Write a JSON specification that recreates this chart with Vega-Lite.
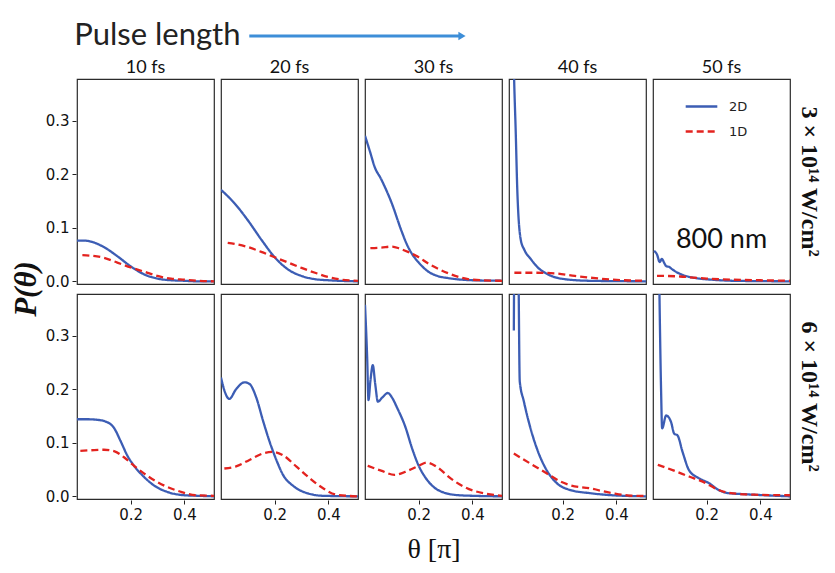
{
  "$schema": "https://vega.github.io/schema/vega-lite/v6.json",
  "background": "white",
  "padding": {"left": 11, "top": 5, "right": 5, "bottom": 3},
  "spacing": 4,
  "vconcat": [
    {
      "width": 709,
      "height": 50,
      "view": {"stroke": null},
      "layer": [
        {
          "data": {"values": [{"x": -0.004, "y": 0.38, "txt": "Pulse length"}]},
          "mark": {"type": "text", "align": "left", "baseline": "middle", "font": "Lato", "fontSize": 31, "color": "#222"},
          "encoding": {
            "x": {"field": "x", "type": "quantitative", "scale": {"domain": [0, 1]}, "axis": null},
            "y": {"field": "y", "type": "quantitative", "scale": {"domain": [0, 1]}, "axis": null},
            "text": {"field": "txt"}
          }
        },
        {
          "data": {"values": [{"x": 0.243, "x2": 0.54, "y": 0.38}]},
          "mark": {"type": "rule", "color": "#3d8ed8", "strokeWidth": 3},
          "encoding": {
            "x": {"field": "x", "type": "quantitative", "scale": {"domain": [0, 1]}, "axis": null},
            "x2": {"field": "x2"},
            "y": {"field": "y", "type": "quantitative", "scale": {"domain": [0, 1]}, "axis": null}
          }
        },
        {
          "data": {"values": [{"x": 0.543, "y": 0.38}]},
          "mark": {"type": "point", "shape": "triangle-right", "filled": true, "size": 70, "color": "#3d8ed8", "opacity": 1},
          "encoding": {
            "x": {"field": "x", "type": "quantitative", "scale": {"domain": [0, 1]}, "axis": null},
            "y": {"field": "y", "type": "quantitative", "scale": {"domain": [0, 1]}, "axis": null}
          }
        }
      ]
    },
    {
      "data": {"values": [
        {"c":10,"r":3,"s":"2D","t":0,"p":0.076},{"c":10,"r":3,"s":"2D","t":0.03,"p":0.076},{"c":10,"r":3,"s":"2D","t":0.06,"p":0.073},{"c":10,"r":3,"s":"2D","t":0.1,"p":0.064},{"c":10,"r":3,"s":"2D","t":0.15,"p":0.047},{"c":10,"r":3,"s":"2D","t":0.2,"p":0.028},{"c":10,"r":3,"s":"2D","t":0.25,"p":0.013},{"c":10,"r":3,"s":"2D","t":0.3,"p":0.005},{"c":10,"r":3,"s":"2D","t":0.35,"p":0.002},{"c":10,"r":3,"s":"2D","t":0.4,"p":0.001},{"c":10,"r":3,"s":"2D","t":0.45,"p":0},{"c":10,"r":3,"s":"2D","t":0.51,"p":0},
        {"c":10,"r":3,"s":"1D","t":0.02,"p":0.049},{"c":10,"r":3,"s":"1D","t":0.05,"p":0.048},{"c":10,"r":3,"s":"1D","t":0.1,"p":0.044},{"c":10,"r":3,"s":"1D","t":0.15,"p":0.035},{"c":10,"r":3,"s":"1D","t":0.2,"p":0.026},{"c":10,"r":3,"s":"1D","t":0.25,"p":0.018},{"c":10,"r":3,"s":"1D","t":0.3,"p":0.01},{"c":10,"r":3,"s":"1D","t":0.35,"p":0.005},{"c":10,"r":3,"s":"1D","t":0.4,"p":0.003},{"c":10,"r":3,"s":"1D","t":0.45,"p":0.001},{"c":10,"r":3,"s":"1D","t":0.51,"p":0},

        {"c":20,"r":3,"s":"2D","t":0,"p":0.171},{"c":20,"r":3,"s":"2D","t":0.05,"p":0.146},{"c":20,"r":3,"s":"2D","t":0.1,"p":0.114},{"c":20,"r":3,"s":"2D","t":0.15,"p":0.078},{"c":20,"r":3,"s":"2D","t":0.2,"p":0.045},{"c":20,"r":3,"s":"2D","t":0.25,"p":0.022},{"c":20,"r":3,"s":"2D","t":0.3,"p":0.01},{"c":20,"r":3,"s":"2D","t":0.35,"p":0.004},{"c":20,"r":3,"s":"2D","t":0.4,"p":0.002},{"c":20,"r":3,"s":"2D","t":0.51,"p":0},
        {"c":20,"r":3,"s":"1D","t":0.025,"p":0.072},{"c":20,"r":3,"s":"1D","t":0.05,"p":0.07},{"c":20,"r":3,"s":"1D","t":0.1,"p":0.064},{"c":20,"r":3,"s":"1D","t":0.15,"p":0.055},{"c":20,"r":3,"s":"1D","t":0.2,"p":0.045},{"c":20,"r":3,"s":"1D","t":0.25,"p":0.035},{"c":20,"r":3,"s":"1D","t":0.3,"p":0.025},{"c":20,"r":3,"s":"1D","t":0.35,"p":0.016},{"c":20,"r":3,"s":"1D","t":0.4,"p":0.008},{"c":20,"r":3,"s":"1D","t":0.45,"p":0.003},{"c":20,"r":3,"s":"1D","t":0.51,"p":0.001},

        {"c":30,"r":3,"s":"2D","t":0,"p":0.272},{"c":30,"r":3,"s":"2D","t":0.02,"p":0.24},{"c":30,"r":3,"s":"2D","t":0.035,"p":0.215},{"c":30,"r":3,"s":"2D","t":0.06,"p":0.191},{"c":30,"r":3,"s":"2D","t":0.098,"p":0.148},{"c":30,"r":3,"s":"2D","t":0.136,"p":0.094},{"c":30,"r":3,"s":"2D","t":0.155,"p":0.07},{"c":30,"r":3,"s":"2D","t":0.174,"p":0.052},{"c":30,"r":3,"s":"2D","t":0.2,"p":0.035},{"c":30,"r":3,"s":"2D","t":0.236,"p":0.018},{"c":30,"r":3,"s":"2D","t":0.27,"p":0.01},{"c":30,"r":3,"s":"2D","t":0.31,"p":0.006},{"c":30,"r":3,"s":"2D","t":0.4,"p":0.002},{"c":30,"r":3,"s":"2D","t":0.51,"p":0.001},
        {"c":30,"r":3,"s":"1D","t":0.02,"p":0.062},{"c":30,"r":3,"s":"1D","t":0.06,"p":0.063},{"c":30,"r":3,"s":"1D","t":0.1,"p":0.065},{"c":30,"r":3,"s":"1D","t":0.13,"p":0.061},{"c":30,"r":3,"s":"1D","t":0.16,"p":0.055},{"c":30,"r":3,"s":"1D","t":0.2,"p":0.045},{"c":30,"r":3,"s":"1D","t":0.236,"p":0.033},{"c":30,"r":3,"s":"1D","t":0.27,"p":0.024},{"c":30,"r":3,"s":"1D","t":0.31,"p":0.015},{"c":30,"r":3,"s":"1D","t":0.35,"p":0.008},{"c":30,"r":3,"s":"1D","t":0.4,"p":0.003},{"c":30,"r":3,"s":"1D","t":0.51,"p":0.001},

        {"c":40,"r":3,"s":"2D","t":0.016,"p":0.45},{"c":40,"r":3,"s":"2D","t":0.019,"p":0.38},{"c":40,"r":3,"s":"2D","t":0.025,"p":0.28},{"c":40,"r":3,"s":"2D","t":0.031,"p":0.169},{"c":40,"r":3,"s":"2D","t":0.044,"p":0.077},{"c":40,"r":3,"s":"2D","t":0.057,"p":0.059},{"c":40,"r":3,"s":"2D","t":0.082,"p":0.041},{"c":40,"r":3,"s":"2D","t":0.107,"p":0.026},{"c":40,"r":3,"s":"2D","t":0.145,"p":0.013},{"c":40,"r":3,"s":"2D","t":0.208,"p":0.004},{"c":40,"r":3,"s":"2D","t":0.3,"p":0.001},{"c":40,"r":3,"s":"2D","t":0.51,"p":0},
        {"c":40,"r":3,"s":"1D","t":0.02,"p":0.016},{"c":40,"r":3,"s":"1D","t":0.1,"p":0.016},{"c":40,"r":3,"s":"1D","t":0.17,"p":0.015},{"c":40,"r":3,"s":"1D","t":0.245,"p":0.01},{"c":40,"r":3,"s":"1D","t":0.3,"p":0.007},{"c":40,"r":3,"s":"1D","t":0.36,"p":0.004},{"c":40,"r":3,"s":"1D","t":0.43,"p":0.002},{"c":40,"r":3,"s":"1D","t":0.51,"p":0.001},

        {"c":50,"r":3,"s":"2D","t":0.004,"p":0.057},{"c":50,"r":3,"s":"2D","t":0.015,"p":0.05},{"c":50,"r":3,"s":"2D","t":0.025,"p":0.036},{"c":50,"r":3,"s":"2D","t":0.033,"p":0.042},{"c":50,"r":3,"s":"2D","t":0.042,"p":0.034},{"c":50,"r":3,"s":"2D","t":0.05,"p":0.028},{"c":50,"r":3,"s":"2D","t":0.06,"p":0.027},{"c":50,"r":3,"s":"2D","t":0.07,"p":0.023},{"c":50,"r":3,"s":"2D","t":0.085,"p":0.018},{"c":50,"r":3,"s":"2D","t":0.1,"p":0.014},{"c":50,"r":3,"s":"2D","t":0.13,"p":0.009},{"c":50,"r":3,"s":"2D","t":0.16,"p":0.006},{"c":50,"r":3,"s":"2D","t":0.22,"p":0.003},{"c":50,"r":3,"s":"2D","t":0.3,"p":0.001},{"c":50,"r":3,"s":"2D","t":0.51,"p":0},
        {"c":50,"r":3,"s":"1D","t":0.015,"p":0.01},{"c":50,"r":3,"s":"1D","t":0.05,"p":0.01},{"c":50,"r":3,"s":"1D","t":0.1,"p":0.009},{"c":50,"r":3,"s":"1D","t":0.15,"p":0.007},{"c":50,"r":3,"s":"1D","t":0.2,"p":0.005},{"c":50,"r":3,"s":"1D","t":0.3,"p":0.003},{"c":50,"r":3,"s":"1D","t":0.4,"p":0.002},{"c":50,"r":3,"s":"1D","t":0.51,"p":0.001},

        {"c":10,"r":6,"s":"2D","t":0,"p":0.144},{"c":10,"r":6,"s":"2D","t":0.04,"p":0.144},{"c":10,"r":6,"s":"2D","t":0.075,"p":0.143},{"c":10,"r":6,"s":"2D","t":0.11,"p":0.139},{"c":10,"r":6,"s":"2D","t":0.1375,"p":0.128},{"c":10,"r":6,"s":"2D","t":0.1625,"p":0.103},{"c":10,"r":6,"s":"2D","t":0.1875,"p":0.076},{"c":10,"r":6,"s":"2D","t":0.2125,"p":0.057},{"c":10,"r":6,"s":"2D","t":0.25,"p":0.036},{"c":10,"r":6,"s":"2D","t":0.2875,"p":0.02},{"c":10,"r":6,"s":"2D","t":0.3375,"p":0.008},{"c":10,"r":6,"s":"2D","t":0.4,"p":0.002},{"c":10,"r":6,"s":"2D","t":0.45,"p":0.001},{"c":10,"r":6,"s":"2D","t":0.51,"p":0},
        {"c":10,"r":6,"s":"1D","t":0.0125,"p":0.085},{"c":10,"r":6,"s":"1D","t":0.05,"p":0.086},{"c":10,"r":6,"s":"1D","t":0.1,"p":0.087},{"c":10,"r":6,"s":"1D","t":0.14,"p":0.084},{"c":10,"r":6,"s":"1D","t":0.175,"p":0.073},{"c":10,"r":6,"s":"1D","t":0.2125,"p":0.057},{"c":10,"r":6,"s":"1D","t":0.26,"p":0.039},{"c":10,"r":6,"s":"1D","t":0.325,"p":0.02},{"c":10,"r":6,"s":"1D","t":0.39,"p":0.008},{"c":10,"r":6,"s":"1D","t":0.44,"p":0.002},{"c":10,"r":6,"s":"1D","t":0.51,"p":0.001},

        {"c":20,"r":6,"s":"2D","t":0,"p":0.222},{"c":20,"r":6,"s":"2D","t":0.0125,"p":0.198},{"c":20,"r":6,"s":"2D","t":0.031,"p":0.182},{"c":20,"r":6,"s":"2D","t":0.056,"p":0.2},{"c":20,"r":6,"s":"2D","t":0.0875,"p":0.213},{"c":20,"r":6,"s":"2D","t":0.106,"p":0.21},{"c":20,"r":6,"s":"2D","t":0.131,"p":0.185},{"c":20,"r":6,"s":"2D","t":0.156,"p":0.142},{"c":20,"r":6,"s":"2D","t":0.181,"p":0.102},{"c":20,"r":6,"s":"2D","t":0.206,"p":0.068},{"c":20,"r":6,"s":"2D","t":0.231,"p":0.04},{"c":20,"r":6,"s":"2D","t":0.27,"p":0.019},{"c":20,"r":6,"s":"2D","t":0.32,"p":0.006},{"c":20,"r":6,"s":"2D","t":0.38,"p":0.001},{"c":20,"r":6,"s":"2D","t":0.51,"p":0},
        {"c":20,"r":6,"s":"1D","t":0.0125,"p":0.052},{"c":20,"r":6,"s":"1D","t":0.056,"p":0.056},{"c":20,"r":6,"s":"1D","t":0.106,"p":0.068},{"c":20,"r":6,"s":"1D","t":0.156,"p":0.08},{"c":20,"r":6,"s":"1D","t":0.194,"p":0.083},{"c":20,"r":6,"s":"1D","t":0.23,"p":0.077},{"c":20,"r":6,"s":"1D","t":0.28,"p":0.056},{"c":20,"r":6,"s":"1D","t":0.33,"p":0.034},{"c":20,"r":6,"s":"1D","t":0.38,"p":0.015},{"c":20,"r":6,"s":"1D","t":0.43,"p":0.003},{"c":20,"r":6,"s":"1D","t":0.51,"p":0},

        {"c":30,"r":6,"s":"2D","t":0,"p":0.358},{"c":30,"r":6,"s":"2D","t":0.008,"p":0.26},{"c":30,"r":6,"s":"2D","t":0.013,"p":0.18},{"c":30,"r":6,"s":"2D","t":0.02,"p":0.215},{"c":30,"r":6,"s":"2D","t":0.029,"p":0.245},{"c":30,"r":6,"s":"2D","t":0.038,"p":0.21},{"c":30,"r":6,"s":"2D","t":0.048,"p":0.177},{"c":30,"r":6,"s":"2D","t":0.065,"p":0.185},{"c":30,"r":6,"s":"2D","t":0.085,"p":0.193},{"c":30,"r":6,"s":"2D","t":0.1,"p":0.185},{"c":30,"r":6,"s":"2D","t":0.12,"p":0.165},{"c":30,"r":6,"s":"2D","t":0.15,"p":0.13},{"c":30,"r":6,"s":"2D","t":0.175,"p":0.09},{"c":30,"r":6,"s":"2D","t":0.2,"p":0.057},{"c":30,"r":6,"s":"2D","t":0.225,"p":0.035},{"c":30,"r":6,"s":"2D","t":0.25,"p":0.02},{"c":30,"r":6,"s":"2D","t":0.3,"p":0.006},{"c":30,"r":6,"s":"2D","t":0.35,"p":0.002},{"c":30,"r":6,"s":"2D","t":0.4,"p":0.001},{"c":30,"r":6,"s":"2D","t":0.51,"p":0},
        {"c":30,"r":6,"s":"1D","t":0.01,"p":0.057},{"c":30,"r":6,"s":"1D","t":0.06,"p":0.048},{"c":30,"r":6,"s":"1D","t":0.11,"p":0.04},{"c":30,"r":6,"s":"1D","t":0.16,"p":0.048},{"c":30,"r":6,"s":"1D","t":0.2,"p":0.057},{"c":30,"r":6,"s":"1D","t":0.23,"p":0.063},{"c":30,"r":6,"s":"1D","t":0.27,"p":0.054},{"c":30,"r":6,"s":"1D","t":0.32,"p":0.033},{"c":30,"r":6,"s":"1D","t":0.385,"p":0.014},{"c":30,"r":6,"s":"1D","t":0.45,"p":0.005},{"c":30,"r":6,"s":"1D","t":0.51,"p":0.001},

        {"c":40,"r":6,"s":"2D","t":0.018,"p":0.31},{"c":40,"r":6,"s":"2D","t":0.02,"p":0.45},{"c":40,"r":6,"s":"2D","t":0.034,"p":0.45},{"c":40,"r":6,"s":"2D","t":0.04,"p":0.215},{"c":40,"r":6,"s":"2D","t":0.055,"p":0.178},{"c":40,"r":6,"s":"2D","t":0.079,"p":0.129},{"c":40,"r":6,"s":"2D","t":0.104,"p":0.089},{"c":40,"r":6,"s":"2D","t":0.14,"p":0.049},{"c":40,"r":6,"s":"2D","t":0.177,"p":0.025},{"c":40,"r":6,"s":"2D","t":0.226,"p":0.012},{"c":40,"r":6,"s":"2D","t":0.3,"p":0.006},{"c":40,"r":6,"s":"2D","t":0.384,"p":0.002},{"c":40,"r":6,"s":"2D","t":0.51,"p":0},
        {"c":40,"r":6,"s":"1D","t":0.018,"p":0.08},{"c":40,"r":6,"s":"1D","t":0.08,"p":0.061},{"c":40,"r":6,"s":"1D","t":0.14,"p":0.043},{"c":40,"r":6,"s":"1D","t":0.19,"p":0.028},{"c":40,"r":6,"s":"1D","t":0.226,"p":0.021},{"c":40,"r":6,"s":"1D","t":0.3,"p":0.015},{"c":40,"r":6,"s":"1D","t":0.385,"p":0.006},{"c":40,"r":6,"s":"1D","t":0.47,"p":0.001},{"c":40,"r":6,"s":"1D","t":0.51,"p":0.001},

        {"c":50,"r":6,"s":"2D","t":0.022,"p":0.45},{"c":50,"r":6,"s":"2D","t":0.03,"p":0.2},{"c":50,"r":6,"s":"2D","t":0.034,"p":0.127},{"c":50,"r":6,"s":"2D","t":0.049,"p":0.151},{"c":50,"r":6,"s":"2D","t":0.067,"p":0.139},{"c":50,"r":6,"s":"2D","t":0.079,"p":0.117},{"c":50,"r":6,"s":"2D","t":0.091,"p":0.114},{"c":50,"r":6,"s":"2D","t":0.11,"p":0.083},{"c":50,"r":6,"s":"2D","t":0.134,"p":0.049},{"c":50,"r":6,"s":"2D","t":0.17,"p":0.034},{"c":50,"r":6,"s":"2D","t":0.207,"p":0.025},{"c":50,"r":6,"s":"2D","t":0.244,"p":0.012},{"c":50,"r":6,"s":"2D","t":0.28,"p":0.006},{"c":50,"r":6,"s":"2D","t":0.34,"p":0.004},{"c":50,"r":6,"s":"2D","t":0.51,"p":0},
        {"c":50,"r":6,"s":"1D","t":0.018,"p":0.059},{"c":50,"r":6,"s":"1D","t":0.073,"p":0.049},{"c":50,"r":6,"s":"1D","t":0.134,"p":0.037},{"c":50,"r":6,"s":"1D","t":0.183,"p":0.028},{"c":50,"r":6,"s":"1D","t":0.244,"p":0.012},{"c":50,"r":6,"s":"1D","t":0.29,"p":0.006},{"c":50,"r":6,"s":"1D","t":0.38,"p":0.003},{"c":50,"r":6,"s":"1D","t":0.51,"p":0.002},

        {"c":50,"r":3,"s":"note","t":0.255,"p":0.078,"txt":"800 nm"}
      ]},
      "spacing": {"row": 8, "column": 5},
      "facet": {
        "row": {"field": "r", "type": "ordinal", "sort": [3, 6], "header": {"title": "P(θ)", "titleOrient": "left", "titleFont": "Liberation Serif", "titleFontSize": 31, "titleFontWeight": "bold", "titleFontStyle": "italic", "titleColor": "#111", "titlePadding": -8, "labelOrient": "right", "labelAngle": 90, "labelFont": "Liberation Serif", "labelFontWeight": "bold", "labelFontSize": 24, "labelColor": "#111", "labelPadding": 6, "labelExpr": "datum.value == 3 ? '3 × 10¹⁴ W/cm²' : '6 × 10¹⁴ W/cm²'"}},
        "column": {"field": "c", "type": "ordinal", "sort": [10, 20, 30, 40, 50], "header": {"title": "θ [π]", "titleOrient": "bottom", "titleFont": "Liberation Serif", "titleFontSize": 28, "titleFontWeight": "normal", "titleColor": "#111", "titlePadding": 4, "labelOrient": "top", "labelFont": "Lato", "labelFontSize": 18, "labelColor": "#111", "labelPadding": 1, "labelExpr": "datum.value + ' fs'"}}
      },
      "spec": {
        "width": 137,
        "height": 205,
        "encoding": {
          "x": {"field": "t", "type": "quantitative", "scale": {"domain": [0, 0.51], "nice": false},
                "axis": {"values": [0.2, 0.4], "format": ".1f", "title": null}},
          "y": {"field": "p", "type": "quantitative", "scale": {"domain": [-0.005, 0.378], "nice": false, "zero": false},
                "axis": {"values": [0, 0.1, 0.2, 0.3], "format": ".1f", "title": null}}
        },
        "layer": [
          {
            "transform": [{"filter": "datum.s !== 'note'"}],
            "mark": {"type": "line", "clip": true, "interpolate": "monotone", "strokeWidth": 2.3},
            "encoding": {
              "color": {"field": "s", "type": "nominal", "scale": {"domain": ["2D", "1D"], "range": ["#3c5db4", "#e3231f"]},
                        "legend": {"title": null, "orient": "none", "legendX": 607, "legendY": 84, "symbolType": "stroke", "symbolSize": 1000, "symbolStrokeWidth": 2.5, "labelFont": "DejaVu Sans", "labelFontSize": 13, "labelColor": "#222", "rowPadding": -12, "labelOffset": 10}},
              "strokeDash": {"field": "s", "type": "nominal", "scale": {"domain": ["2D", "1D"], "range": [[1, 0], [7, 4]]},
                        "legend": {"title": null, "orient": "none", "legendX": 607, "legendY": 84, "symbolType": "stroke", "symbolSize": 1000, "symbolStrokeWidth": 2.5, "labelFont": "DejaVu Sans", "labelFontSize": 13, "labelColor": "#222", "rowPadding": -12, "labelOffset": 10}}
            }
          },
          {
            "transform": [{"filter": "datum.s === 'note'"}],
            "mark": {"type": "text", "font": "Lato", "fontSize": 27, "color": "#111", "align": "center", "baseline": "middle"},
            "encoding": {"text": {"field": "txt"}}
          }
        ]
      }
    }
  ],
  "config": {
    "view": {"stroke": "#2b2b2b", "strokeWidth": 1.2},
    "font": "DejaVu Sans",
    "axis": {"grid": false, "domain": false, "ticks": true, "tickSize": 4, "tickColor": "#222", "labelFont": "DejaVu Sans", "labelFontSize": 15, "labelColor": "#111", "labelPadding": 3}
  }
}
